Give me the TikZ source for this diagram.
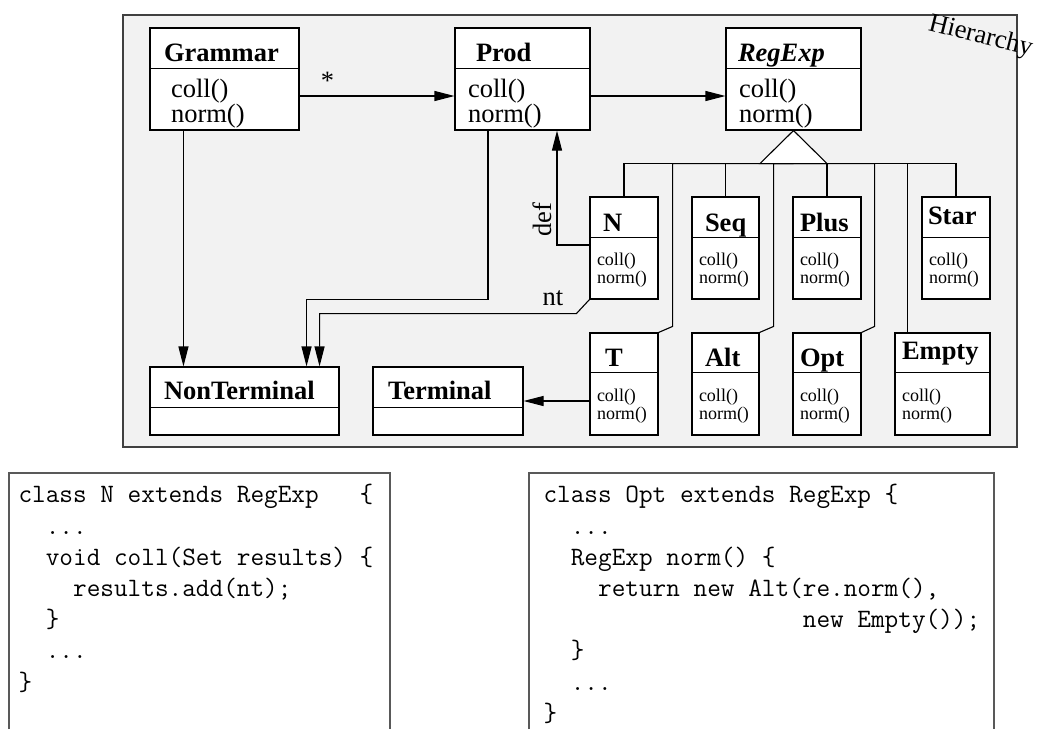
\documentclass[tikz,border=0pt]{standalone}
\usepackage{fontspec}
\setmainfont{Liberation Serif}
\usetikzlibrary{arrows.meta}
\begin{document}
\begin{tikzpicture}[x=1pt, y=-1pt, line width=1.1pt,
  cls/.style={draw, fill=white, inner sep=0pt, minimum height=102pt},
  ttl/.style={font=\fontsize{26.5}{30}\selectfont\bfseries, inner sep=0pt, anchor=base west},
  mth/.style={font=\fontsize{26.5}{23}\selectfont, align=left, inner sep=0pt, anchor=north west},
  smth/.style={font=\fontsize{18}{18}\selectfont, align=left, inner sep=0pt, anchor=north west},
  lbl/.style={font=\fontsize{26.5}{30}\selectfont, inner sep=6pt},
  code/.style={font=\fontsize{26.5}{31.2}\selectfont\ttfamily, align=left, inner sep=0pt, anchor=north west},
  arr/.style={-{Triangle[length=20pt,width=10pt]}}]
\useasboundingbox (0,0) rectangle (1037,729);
\node[draw=black!75, fill=black!5, minimum width=894pt, minimum height=432pt, inner sep=0pt] (hier) at (570,231) {};
\node[lbl, rotate=-14, anchor=base, inner sep=0pt] (hierlbl) at (979,43) {Hierarchy};
\node[cls, minimum width=149pt] (gram) at (224.5,79) {};
\node[cls, minimum width=135pt] (prod) at (522.5,79) {};
\node[cls, minimum width=135pt] (regexp) at (793.5,79) {};
\node[cls, minimum width=68pt] (n) at (624,248) {};
\node[cls, minimum width=67pt] (seq) at (725.5,248) {};
\node[cls, minimum width=68pt] (plus) at (827,248) {};
\node[cls, minimum width=68pt] (star) at (956,248) {};
\node[cls, minimum width=68pt] (t) at (624,384) {};
\node[cls, minimum width=67pt] (alt) at (725.5,384) {};
\node[cls, minimum width=68pt] (opt) at (827,384) {};
\node[cls, minimum width=95pt] (empty) at (942.5,384) {};
\node[cls, minimum width=189pt, minimum height=68pt] (nonterm) at (244.5,401) {};
\node[cls, minimum width=150pt, minimum height=68pt] (term) at (448,401) {};
\draw ([yshift=-41pt]gram.north west) -- ([yshift=-41pt]gram.north east);
\draw ([yshift=-41pt]prod.north west) -- ([yshift=-41pt]prod.north east);
\draw ([yshift=-41pt]regexp.north west) -- ([yshift=-41pt]regexp.north east);
\draw ([yshift=-41pt]n.north west) -- ([yshift=-41pt]n.north east);
\draw ([yshift=-41pt]seq.north west) -- ([yshift=-41pt]seq.north east);
\draw ([yshift=-41pt]plus.north west) -- ([yshift=-41pt]plus.north east);
\draw ([yshift=-41pt]star.north west) -- ([yshift=-41pt]star.north east);
\draw ([yshift=-40pt]t.north west) -- ([yshift=-40pt]t.north east);
\draw ([yshift=-40pt]alt.north west) -- ([yshift=-40pt]alt.north east);
\draw ([yshift=-40pt]opt.north west) -- ([yshift=-40pt]opt.north east);
\draw ([yshift=-40pt]empty.north west) -- ([yshift=-40pt]empty.north east);
\draw ([yshift=-41pt]nonterm.north west) -- ([yshift=-41pt]nonterm.north east);
\draw ([yshift=-41pt]term.north west) -- ([yshift=-41pt]term.north east);
\node[ttl] (gram-t) at ([shift={(14,34)}]gram.north west) {Grammar};
\node[ttl] (prod-t) at ([shift={(21,34)}]prod.north west) {Prod};
\node[ttl] (regexp-t) at ([shift={(12,34)}]regexp.north west) {\itshape RegExp};
\node[ttl] (n-t) at ([shift={(13,35)}]n.north west) {N};
\node[ttl] (seq-t) at ([shift={(13,35)}]seq.north west) {Seq};
\node[ttl] (plus-t) at ([shift={(7,35)}]plus.north west) {Plus};
\node[ttl] (star-t) at ([shift={(6,28)}]star.north west) {Star};
\node[ttl] (t-t) at ([shift={(15,34)}]t.north west) {T};
\node[ttl] (alt-t) at ([shift={(13,34)}]alt.north west) {Alt};
\node[ttl] (opt-t) at ([shift={(7,34)}]opt.north west) {Opt};
\node[ttl] (empty-t) at ([shift={(7,27)}]empty.north west) {Empty};
\node[ttl] (nonterm-t) at ([shift={(14,33)}]nonterm.north west) {NonTerminal};
\node[ttl] (term-t) at ([shift={(15,33)}]term.north west) {Terminal};
\node[mth] (gram-m) at ([shift={(21,51)}]gram.north west) {coll()\\norm()};
\node[mth] (prod-m) at ([shift={(13,51)}]prod.north west) {coll()\\norm()};
\node[mth] (regexp-m) at ([shift={(13,51)}]regexp.north west) {coll()\\norm()};
\node[smth] (n-m) at ([shift={(7,56.5)}]n.north west) {coll()\\norm()};
\node[smth] (seq-m) at ([shift={(7,56.5)}]seq.north west) {coll()\\norm()};
\node[smth] (plus-m) at ([shift={(7,56.5)}]plus.north west) {coll()\\norm()};
\node[smth] (star-m) at ([shift={(7,56.5)}]star.north west) {coll()\\norm()};
\node[smth] (t-m) at ([shift={(7,56.5)}]t.north west) {coll()\\norm()};
\node[smth] (alt-m) at ([shift={(7,56.5)}]alt.north west) {coll()\\norm()};
\node[smth] (opt-m) at ([shift={(7,56.5)}]opt.north west) {coll()\\norm()};
\node[smth] (empty-m) at ([shift={(7,56.5)}]empty.north west) {coll()\\norm()};
\coordinate (bus) at ([shift={(0,33)}]regexp.south);
\draw (n.north) |- (bus);
\draw (seq.north) -- (seq.north |- bus);
\draw (plus.north) -- (plus.north |- bus);
\draw (star.north) |- (bus);
\draw (t.north east) -- ++(14,-6) |- (bus);
\draw (alt.north east) -- ++(14,-6) |- (bus);
\draw (opt.north east) -- ++(13,-6) |- (bus);
\draw ([xshift=13pt]empty.north west) |- (bus);
\draw[fill=white] (regexp.south) -- ++(-33.5,33) -- ++(67,0) -- cycle;
\draw[arr] ([shift={(0,17)}]gram.east) -- ([shift={(0,17)}]prod.west) node[lbl, pos=0.18, above] (mult) {*};
\draw[arr] ([shift={(0,17)}]prod.east) -- ([shift={(0,17)}]regexp.west);
\draw[arr] ([shift={(0,-3)}]n.west) -| ([shift={(34.5,0)}]prod.south);
\node[lbl, rotate=90, inner sep=0pt] (def) at (542,220) {def};
\draw[arr] (n.south west) -- ++(-13,14) -| ([shift={(-20,0)}]nonterm.north east);
\node[lbl, inner sep=0pt] (ntlbl) at (553,298) {nt};
\draw[arr] ([shift={(-34.5,0)}]prod.south) -- ++(0,169) -| ([shift={(-33,0)}]nonterm.north east);
\draw[arr] ([shift={(34,0)}]gram.south west) -- ([shift={(34,0)}]nonterm.north west);
\draw[arr] (t.west |- term.east) -- (term.east);
\draw[black!65] (9,729) |- (390,473) -- (390,729);
\draw[black!65] (529,729) |- (994,473) -- (994,729);
\node[code] (ncode) at (18,484) {class N extends RegExp\phantom{xx} \{\\
\phantom{xx}...\\
\phantom{xx}void coll(Set results) \{\\
\phantom{xxxx}results.add(nt);\\
\phantom{xx}\}\\
\phantom{xx}...\\
\}};
\node[code] (optcode) at (543,484) {class Opt extends RegExp \{\\
\phantom{xx}...\\
\phantom{xx}RegExp norm() \{\\
\phantom{xxxx}return new Alt(re.norm(),\\
\phantom{xxxxxxxxxxxxxxxxxxx}new Empty());\\
\phantom{xx}\}\\
\phantom{xx}...\\
\}};
\end{tikzpicture}
\end{document}
